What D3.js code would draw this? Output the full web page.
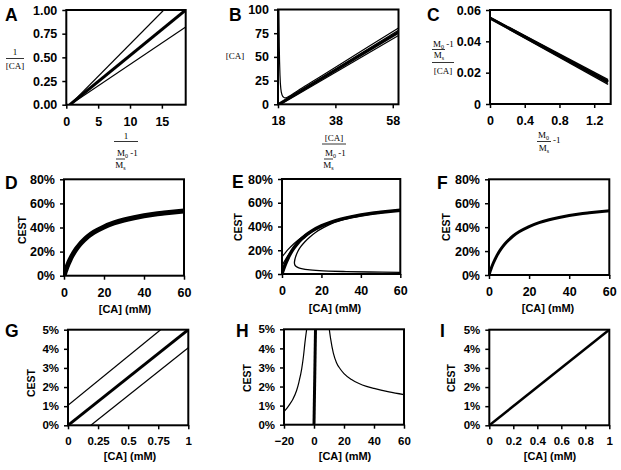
<!DOCTYPE html>
<html><head><meta charset="utf-8">
<script src="https://cdn.jsdelivr.net/npm/d3@7"></script>
<style>body{margin:0;background:#fff}svg{display:block}</style>
</head><body><svg id="c" width="621" height="470"></svg>
<script>
// ---------- DATA ----------
// Panel A: 1/[CA] vs 1/(M0/Ms-1)
const aTicksX = [0, 5, 10, 15];
const aTicksY = [0, 0.25, 0.5, 0.75, 1];
const aThick = [[0.56, 0], [18.74, 1.0]];
const aUpper = [[0.6, 0], [15.3, 1.0]];
const aLower = [[0.6, 0], [18.74, 0.82]];

// Panel B: [CA] vs [CA]/(M0/Ms-1)
const bTicksX = [18, 38, 58];
const bTicksY = [0, 25, 50, 75, 100];
const bThick = [[18.2, 0], [60, 76]];
const bSpike = [[18.3, 100], [18.45, 60], [18.7, 30], [19.0, 16], [19.4, 10], [19.9, 7.6], [20.5, 6.8], [21.5, 7.8], [25, 14.6], [30, 24.0], [40, 42.8], [50, 61.7], [60, 80.5]];
const bThin1 = [[18.1, 0], [60, 78]];
const bThin2 = [[19.0, 0], [60, 72.5]];

// Panel C: (M0/Ms-1)/[CA] vs (M0/Ms-1)
const cTicksX = [0, 0.4, 0.8, 1.2];
const cTicksY = [0, 0.02, 0.04, 0.06];
const cThick = [[0, 0.0549], [1.36, 0.0140]];
const cThin1 = [[0, 0.0553], [1.36, 0.0156]];
const cThin2 = [[0, 0.0545], [1.36, 0.0125]];
const cThin3 = [[0, 0.0551], [1.36, 0.0148]];

// Panels D, E, F: CEST vs [CA] (mM)
const cestTicksX = [0, 20, 40, 60];
const cestTicksY = [0, 0.2, 0.4, 0.6, 0.8];
const mainCA =   [0, 0.5, 1, 2, 3, 4, 6, 8, 10, 12, 15, 20, 25, 30, 35, 40, 45, 50, 55, 60];
const mainCEST = [0, 0.027, 0.051, 0.094, 0.131, 0.164, 0.218, 0.261, 0.296, 0.326, 0.361, 0.405, 0.4375, 0.462, 0.481, 0.497, 0.510, 0.520, 0.529, 0.537];
const eUpper = [[0, 0.145], [1, 0.165], [3, 0.205], [6, 0.255], [10, 0.31], [15, 0.365], [20, 0.408], [30, 0.465], [40, 0.499], [60, 0.54]];
const eMid = [[0, 0.07], [1, 0.10], [3, 0.155], [6, 0.22], [10, 0.287], [15, 0.352], [20, 0.402], [30, 0.461], [40, 0.497], [60, 0.538]];
const eLoop = [[60, 0.014], [44, 0.017], [31, 0.021], [19, 0.028], [13, 0.036], [10.5, 0.043], [8.5, 0.052], [7.2, 0.063], [6.5, 0.077], [6.3, 0.092], [6.5, 0.12], [7, 0.15], [8, 0.19], [9.5, 0.23], [11.5, 0.27], [14, 0.31], [17, 0.35], [21, 0.39], [26, 0.43], [32, 0.46], [40, 0.49], [50, 0.515], [60, 0.535]];

// Panels G, H, I: CEST (0-5%) vs [CA] (mM)
const lowTicksY = [0, 0.01, 0.02, 0.03, 0.04, 0.05];
const gTicksX = [0, 0.25, 0.5, 0.75, 1];
const gTickLabels = ['0', '0.25', '0.5', '0.75', '1'];
const gThick = [[0, 0], [1, 0.05]];
const gUpper = [[0, 0.0105], [0.77, 0.05]];
const gLower = [[0.19, 0], [1, 0.0406]];
const hTicksX = [-20, 0, 20, 40, 60];
const hThick = [[0, 0], [1, 0.05]];
const hLeft = [[-20, 0.0068], [-18, 0.0087], [-16, 0.0109], [-14, 0.0135], [-11.6, 0.0179], [-10, 0.0225], [-8.2, 0.0293], [-7, 0.036], [-6, 0.0433], [-4.9, 0.05]];
const hRight = [[10.2, 0.05], [11.1, 0.045], [12.9, 0.0375], [15, 0.0325], [17.5, 0.0292], [20, 0.0268], [25, 0.0237], [30, 0.0216], [35, 0.0201], [40, 0.019], [50, 0.0172], [60, 0.0158]];
const iTicksX = [0, 0.2, 0.4, 0.6, 0.8, 1];
const iTickLabels = ['0', '0.2', '0.4', '0.6', '0.8', '1'];
const iLine = [[0, 0], [1, 0.05]];

// ---------- DRAWING ----------
const svg = d3.select('#c');
const mainCurve = mainCA.map((c, i) => [c, mainCEST[i]]);
const SANS = "'Liberation Sans', Arial, sans-serif";
const SERIF = "'Liberation Serif', 'Times New Roman', serif";

function panel(o) {
  const [l, t, r, b] = o.box;
  const x = d3.scaleLinear().domain(o.xd).range([l, r]);
  const y = d3.scaleLinear().domain(o.yd).range([b, t]);
  const g = svg.append('g');
  const id = 'clip' + o.name;
  svg.append('clipPath').attr('id', id).append('rect')
    .attr('x', l).attr('y', t).attr('width', r - l).attr('height', b - t);

  const xa = d3.axisBottom(x).tickValues(o.xt).tickSize(4).tickPadding(8);
  if (o.xl) xa.tickFormat((d, i) => o.xl[i]); else if (o.xf) xa.tickFormat(o.xf);
  const ya = d3.axisLeft(y).tickValues(o.yt).tickSize(4).tickPadding(5);
  if (o.yf) ya.tickFormat(o.yf);

  const gx = g.append('g').attr('transform', `translate(0,${b})`).call(xa);
  const gy = g.append('g').attr('transform', `translate(${l},0)`).call(ya);
  [gx, gy].forEach(ax => {
    ax.select('.domain').remove();
    ax.selectAll('line').attr('stroke', '#000').attr('stroke-width', 1.5);
    ax.selectAll('text').attr('font-family', SANS).attr('font-weight', 'bold')
      .attr('font-size', o.fs || 12.5).attr('fill', '#000');
  });

  const clipG = g.append('g').attr('clip-path', `url(#${id})`);
  o.series.forEach(s => {
    clipG.append('path').datum(s.d)
      .attr('fill', 'none').attr('stroke', '#000')
      .attr('stroke-width', s.w).attr('stroke-linejoin', 'round')
      .attr('d', d3.line().x(d => x(d[0])).y(d => y(d[1])).curve(s.c || d3.curveMonotoneX));
  });

  g.append('rect').attr('x', l).attr('y', t).attr('width', r - l).attr('height', b - t)
    .attr('fill', 'none').attr('stroke', '#000').attr('stroke-width', 2);

  g.append('text').attr('x', o.lp[0]).attr('y', o.lp[1]).text(o.name)
    .attr('font-family', SANS).attr('font-weight', 'bold').attr('font-size', 17.5);

  if (o.cest) {
    g.append('text').attr('transform', `translate(${o.cest[0]},${o.cest[1]}) rotate(-90)`)
      .attr('text-anchor', 'middle').text('CEST')
      .attr('font-family', SANS).attr('font-weight', 'bold').attr('font-size', 10.5);
  }
  if (o.xlab) {
    g.append('text').attr('x', o.xlab[0]).attr('y', o.xlab[1]).attr('text-anchor', 'middle')
      .text('[CA] (mM)').attr('font-family', SANS).attr('font-weight', 'bold').attr('font-size', 11);
  }
}

function stxt(x, y, parts, anchor) {
  const t = svg.append('text').attr('x', x).attr('y', y).attr('text-anchor', anchor || 'middle')
    .attr('font-family', SERIF).attr('font-size', 9);
  parts.forEach(p => {
    const s = t.append('tspan').text(p[0]);
    if (p[1] === 'sub') s.attr('font-size', 6).attr('dy', 2);
    if (p[1] === 'back') s.attr('dy', -2);
  });
}
function hline(x1, x2, yy) {
  svg.append('line').attr('x1', x1).attr('x2', x2).attr('y1', yy).attr('y2', yy)
    .attr('stroke', '#000').attr('stroke-width', 0.8);
}

panel({ name: 'A', box: [66.3, 10, 185.7, 104.7], xd: [0, 18.74], yd: [0, 1],
  xt: aTicksX, yt: aTicksY, yf: d3.format('.2f'), lp: [5, 21],
  series: [{ d: aThick, w: 3 }, { d: aUpper, w: 1.2 }, { d: aLower, w: 1.2 }] });
panel({ name: 'B', box: [278, 9.5, 398.5, 104.3], xd: [18, 60], yd: [0, 100],
  xt: bTicksX, yt: bTicksY, lp: [229, 21],
  series: [{ d: bThick, w: 3 }, { d: bSpike, w: 1.2 }, { d: bThin1, w: 1.2 }, { d: bThin2, w: 1.2 }] });
panel({ name: 'C', box: [490, 10, 610.7, 104], xd: [0, 1.39], yd: [0, 0.06],
  xt: cTicksX, yt: cTicksY, xf: v => v === 0 ? '0' : d3.format('.1f')(v),
  yf: v => v === 0 ? '0' : d3.format('.2f')(v), lp: [427, 21],
  series: [{ d: cThick, w: 3 }, { d: cThin1, w: 1.3 }, { d: cThin2, w: 1.3 }, { d: cThin3, w: 1.3 }] });

panel({ name: 'D', box: [64, 179.3, 184, 275.7], xd: [0, 60], yd: [0, 0.8],
  xt: cestTicksX, yt: cestTicksY, yf: d3.format('.0%'), lp: [5, 188.5],
  cest: [25.5, 230], xlab: [125, 313],
  series: [{ d: mainCurve, w: 5 }] });
panel({ name: 'E', box: [282, 179, 400.3, 274], xd: [0, 60], yd: [0, 0.8],
  xt: cestTicksX, yt: cestTicksY, yf: d3.format('.0%'), lp: [232, 188],
  cest: [242, 227], xlab: [335, 312],
  series: [{ d: mainCurve, w: 3.5 }, { d: eUpper, w: 1.2 }, { d: eMid, w: 1.2 },
    { d: eLoop, w: 1.3, c: d3.curveCatmullRom }] });
panel({ name: 'F', box: [489, 179.3, 609.3, 275], xd: [0, 60], yd: [0, 0.8],
  xt: cestTicksX, yt: cestTicksY, yf: d3.format('.0%'), lp: [437, 188.5],
  cest: [449.5, 227], xlab: [548, 312],
  series: [{ d: mainCurve, w: 3 }] });

panel({ name: 'G', box: [68, 329.7, 188.3, 425.3], xd: [0, 1], yd: [0, 0.05],
  xt: gTicksX, xl: gTickLabels, yt: lowTicksY, yf: d3.format('.0%'), lp: [5, 337], fs: 11.5,
  cest: [34.5, 383], xlab: [130, 460],
  series: [{ d: gThick, w: 3 }, { d: gUpper, w: 1.2 }, { d: gLower, w: 1.2 }] });
panel({ name: 'H', box: [284, 329.3, 404, 424.7], xd: [-20, 60], yd: [0, 0.05],
  xt: hTicksX, yt: lowTicksY, yf: d3.format('.0%'), lp: [236, 337], fs: 11.5,
  cest: [251, 378], xlab: [345, 460],
  series: [{ d: hThick, w: 3 }, { d: hLeft, w: 1.2 }, { d: hRight, w: 1.2 }] });
panel({ name: 'I', box: [489.3, 329.7, 609.3, 425.3], xd: [0, 1], yd: [0, 0.05],
  xt: iTicksX, xl: iTickLabels, yt: lowTicksY, yf: d3.format('.0%'), lp: [440, 337], fs: 11.5,
  cest: [454.5, 378], xlab: [550, 460],
  series: [{ d: iLine, w: 2.5 }] });

// ---------- fraction axis labels (row 1) ----------
// A y-label: 1/[CA]
stxt(15, 55, [['1']]); hline(6, 24, 58.5); stxt(15, 69, [['[CA]']]);
// A x-label: 1 / ((M0/Ms) - 1)
stxt(126, 139, [['1']]); hline(114, 138, 141.5);
stxt(117, 156, [['M'], ['0', 'sub'], [' -1', 'back']], 'start'); hline(116, 125, 159);
stxt(120.5, 168, [['M'], ['s', 'sub']]);
// B y-label
stxt(235, 59, [['[CA]']]);
// B x-label: [CA] / ((M0/Ms) - 1)
stxt(334, 141, [['[CA]']]); hline(322, 346, 144);
stxt(325, 156, [['M'], ['0', 'sub'], [' -1', 'back']], 'start'); hline(324, 333, 159);
stxt(328.5, 168, [['M'], ['s', 'sub']]);
// C y-label: ((M0/Ms)-1)/[CA]
stxt(433, 46.5, [['M'], ['0', 'sub'], [' -1', 'back']], 'start'); hline(432, 445, 49.5);
stxt(439, 57.5, [['M'], ['s', 'sub']]); hline(432, 454, 62.5);
stxt(443, 73.5, [['[CA]']]);
// C x-label: (M0/Ms) - 1
stxt(538, 138, [['M'], ['0', 'sub']], 'start'); hline(537, 551, 141.5);
stxt(553, 143, [['-1']], 'start');
stxt(544, 151, [['M'], ['s', 'sub']]);
</script></body></html>
